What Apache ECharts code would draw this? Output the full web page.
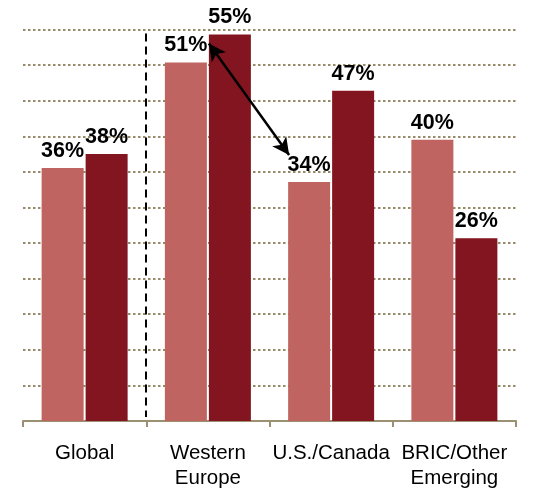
<!DOCTYPE html>
<html lang="en">
<head>
<meta charset="UTF-8">
<title>Chart</title>
<style>html,body{margin:0;padding:0;background:#fff}</style>
</head>
<body>
<div id="container" style="width:534px;height:489px"></div>
<script src="https://cdn.jsdelivr.net/npm/echarts@6/dist/echarts.min.js"></script>
<script>
// data
var categories = ['Global', 'Western\nEurope', 'U.S./Canada', 'BRIC/Other\nEmerging'];
var firstValues = [36, 51, 34, 40];
var secondValues = [38, 55, 47, 26];
var gridSteps = 11; // dotted guide lines

var lightRed = '#bf6461';
var darkRed = '#82151f';
var barW = 42;
var barGapPx = 2;

var chart = echarts.init(document.getElementById('container'), null, {renderer: 'canvas'});

var labelStyle = {
    show: true,
    position: 'top',
    distance: 6,
    formatter: '{c}%',
    fontFamily: 'Liberation Sans, Arial',
    fontWeight: 'bold',
    fontSize: 21.5,
    color: '#000'
};

var option = {
    animation: false,
    textStyle: {fontFamily: 'Liberation Sans, Arial'},
    grid: {left: 23, right: 18, top: 29.5, bottom: 68, outerBoundsMode: 'none'},
    xAxis: {
        type: 'category',
        data: categories,
        axisLine: {lineStyle: {color: '#9b9070', width: 2}},
        axisTick: {show: true, length: 6, lineStyle: {color: '#9b9070', width: 2}},
        axisLabel: {
            interval: 0,
            margin: 20,
            color: '#000',
            fontSize: 20.5,
            lineHeight: 25,
            fontFamily: 'Liberation Sans, Arial'
        }
    },
    yAxis: [
        {
            type: 'value',
            min: 0,
            max: 55.7,
            show: false,
            splitLine: {show: false}
        },
        {
            type: 'value',
            min: 0,
            max: gridSteps,
            interval: 1,
            axisLine: {show: false},
            axisTick: {show: false},
            axisLabel: {show: false},
            splitLine: {show: true, lineStyle: {color: '#958b68', width: 2, type: [2.5, 2.5]}}
        }
    ],
    series: [
        {
            name: 'first',
            type: 'bar',
            data: firstValues,
            barWidth: barW,
            barGap: (barGapPx / barW * 100) + '%',
            itemStyle: {color: lightRed},
            label: labelStyle
        },
        {
            name: 'second',
            type: 'bar',
            data: secondValues,
            barWidth: barW,
            itemStyle: {color: darkRed},
            label: labelStyle
        }
    ]
};

chart.setOption(option);

// annotations: dashed divider + double arrow, placed from axis pixels
var c0 = chart.convertToPixel({xAxisIndex: 0}, 0);
var c1 = chart.convertToPixel({xAxisIndex: 0}, 1);
var c2 = chart.convertToPixel({xAxisIndex: 0}, 2);
var half = (barW + barGapPx) / 2;
var topY = chart.convertToPixel({yAxisIndex: 1}, gridSteps);
var baseY = chart.convertToPixel({yAxisIndex: 1}, 0);
var divX = Math.round((c0 + c1) / 2);

var weTop = chart.convertToPixel({yAxisIndex: 0}, firstValues[1]);
var usTop = chart.convertToPixel({yAxisIndex: 0}, firstValues[2]);

chart.setOption({
    graphic: [{
        type: 'line',
        shape: {x1: divX, y1: topY + 4, x2: divX, y2: baseY - 4},
        style: {stroke: '#000', lineWidth: 2, lineDash: [8, 5]},
        z: 10
    }],
    series: [{
        name: 'first',
        markLine: {
            silent: true,
            symbol: ['arrow', 'arrow'],
            symbolSize: [13, 17],
            label: {show: false},
            lineStyle: {color: '#000', width: 2.5, type: 'solid'},
            data: [[
                {x: c1 - half + 23, y: weTop - 19},
                {x: c2 - half - 20, y: usTop - 27}
            ]]
        }
    }]
});
</script>
</body>
</html>
